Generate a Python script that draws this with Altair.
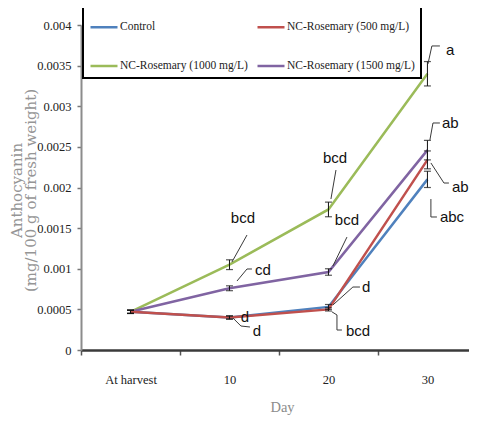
import json
import altair as alt
import pandas as pd

# ---------------- data ----------------
categories = ["At harvest", "10", "20", "30"]
series = ["Control", "NC-Rosemary (500 mg/L)", "NC-Rosemary (1000 mg/L)", "NC-Rosemary (1500 mg/L)"]
colors = ["#4F81BD", "#C0504D", "#9BBB59", "#8064A2"]

control = [0.00047, 0.00040, 0.00053, 0.00210]
nc500 = [0.00047, 0.00040, 0.00050, 0.00234]
nc1000 = [0.00047, 0.00105, 0.00173, 0.00340]
nc1500 = [0.00047, 0.00076, 0.00096, 0.00246]

err_control = [0.00002, 0.00002, 0.00003, 0.00010]
err_500 = [0.00002, 0.00002, 0.00002, 0.00011]
err_1000 = [0.00002, 0.00006, 0.00009, 0.00015]
err_1500 = [0.00002, 0.00003, 0.00004, 0.00012]

y_ticks = [0, 0.0005, 0.001, 0.0015, 0.002, 0.0025, 0.003, 0.0035, 0.004]

# significance letters and where they sit (x in category units, y in data units)
ann_text = ["a", "ab", "ab", "abc", "bcd", "bcd", "d", "bcd", "bcd", "cd", "d", "d"]
ann_x = [3.187, 3.146, 3.247, 3.126, 2.066, 2.187, 2.338, 2.177, 1.136, 1.258, 1.157, 1.278]
ann_y = [0.003692, 0.002794, 0.002006, 0.001637, 0.002363, 0.0016, 0.000775, 0.000234,
         0.001625, 0.000985, 0.000406, 0.000234]
ann_align = ["left", "left", "left", "left", "center", "center", "left", "left",
             "center", "left", "center", "center"]

# leader lines: list of (x, y) vertices
leaders = [
    [(3.005, 0.00352), (3.045, 0.003742), (3.126, 0.003742)],
    [(3.025, 0.002585), (3.056, 0.002794), (3.126, 0.002794)],
    [(3.035, 0.002302), (3.167, 0.002055), (3.217, 0.002055)],
    [(3.035, 0.001858), (3.035, 0.001637), (3.096, 0.001637)],
    [(2.076, 0.002215), (2.025, 0.001858)],
    [(2.187, 0.00139), (2.045, 0.001034)],
    [(2.045, 0.000554), (2.247, 0.000775), (2.318, 0.000775)],
    [(2.035, 0.00047), (2.086, 0.000431), (2.086, 0.000246), (2.136, 0.000246)],
    [(1.177, 0.001415), (1.025, 0.001083)],
    [(1.076, 0.000849), (1.177, 0.000997), (1.227, 0.000997)],
    [(1.035, 0.000394), (1.116, 0.000295), (1.207, 0.000283)],
]

# legend order (two columns, filled column by column)
legend_order = ["Control", "NC-Rosemary (1000 mg/L)", "NC-Rosemary (500 mg/L)", "NC-Rosemary (1500 mg/L)"]

# ---------------- tables ----------------
vals = [control, nc500, nc1000, nc1500]
errs = [err_control, err_500, err_1000, err_1500]
rows = []
for s, v, e in zip(series, vals, errs):
    for i in range(len(categories)):
        rows.append(dict(series=s, xi=i, value=v[i], lo=v[i] - e[i], hi=v[i] + e[i]))
df = pd.DataFrame(rows)

ann_df = pd.DataFrame(dict(label=ann_text, x=ann_x, y=ann_y, anchor=ann_align))
lrows = []
for k, path in enumerate(leaders):
    for j, (lx, ly) in enumerate(path):
        lrows.append(dict(lid=k, seq=j, x=lx, y=ly))
lead_df = pd.DataFrame(lrows)

# ---------------- scales / axes ----------------
serif = "Liberation Serif"
label_expr = "datum.value % 1 == 0 ? " + json.dumps(categories) + "[datum.value] : ''"

x_axis = alt.Axis(
    values=[-0.5, 0, 0.5, 1, 1.5, 2, 2.5, 3],
    labelExpr=label_expr,
    labelOverlap=False, labelFlush=False,
    tickOpacity={"condition": {"test": "datum.value % 1 == 0", "value": 0}, "value": 1},
    tickSize=5, tickColor="#555555", tickWidth=1.5,
    domainColor="#3a3a3a", domainWidth=2.5,
    labelFont=serif, labelFontSize=12.5, labelColor="#222222", labelPadding=18,
    title="Day", titleFont=serif, titleFontSize=14.5, titleFontWeight="normal",
    titleColor="#8c8c8c", titleX=201, titleY=57, titleBaseline="middle",
    grid=False,
)
# the right end of the axis runs off the picture, as in the reference
x_scale = alt.Scale(domain=[-0.5, 3.42], nice=False, zero=False)

y_axis = alt.Axis(
    values=y_ticks,
    labelExpr="format(datum.value, '.4~f')",
    tickSize=4, tickColor="#777777", tickWidth=1.5,
    domainColor="#8c8c8c", domainWidth=2,
    labelFont=serif, labelFontSize=12.5, labelColor="#222222", labelPadding=6,
    title=["Anthocyanin", "(mg/100 g of fresh weight)"],
    titleFont="DejaVu Serif", titleFontSize=15, titleFontWeight="normal",
    titleColor="#959595", titleAngle=270, titleX=-72, titleY=165,
    titleBaseline="top", titleAlign="center", titleLineHeight=14,
    grid=False,
)
y_scale = alt.Scale(domain=[0, 0.004], nice=False, zero=True)

color_range = [colors[series.index(s)] for s in legend_order]
color = alt.Color(
    "series:N",
    scale=alt.Scale(domain=legend_order, range=color_range),
    legend=alt.Legend(
        title=None, orient="none", legendX=2, legendY=-19, columns=2,
        symbolType="stroke", symbolSize=729, symbolStrokeWidth=2.5,
        labelFont=serif, labelFontSize=11.5, labelColor="#222222", labelOffset=1,
        padding=6, rowPadding=18, columnPadding=4,
        strokeColor="#000000",
    ),
)


def X(field):
    return alt.X(field, type="quantitative", scale=x_scale, axis=x_axis)


def Y(field):
    return alt.Y(field, type="quantitative", scale=y_scale, axis=y_axis)


layers = []
for s in ["Control", "NC-Rosemary (1000 mg/L)", "NC-Rosemary (1500 mg/L)", "NC-Rosemary (500 mg/L)"]:
    layers.append(
        alt.Chart(df[df["series"] == s]).mark_line(strokeWidth=2.5).encode(
            x=X("xi"), y=Y("value"), color=color
        )
    )

err_rule = alt.Chart(df).mark_rule(color="#111111", strokeWidth=1).encode(
    x=X("xi"), y=Y("lo"), y2="hi"
)
cap_lo = alt.Chart(df).mark_tick(color="#111111", orient="horizontal", size=7, thickness=1.2).encode(
    x=X("xi"), y=Y("lo")
)
cap_hi = alt.Chart(df).mark_tick(color="#111111", orient="horizontal", size=7, thickness=1.2).encode(
    x=X("xi"), y=Y("hi")
)

lead = alt.Chart(lead_df).mark_line(color="#3a3a3a", strokeWidth=1).encode(
    x=X("x"), y=Y("y"), detail="lid:N", order="seq:Q"
)

letter_font = "Liberation Sans Narrow, Liberation Sans, sans-serif"
txt_left = alt.Chart(ann_df[ann_df["anchor"] == "left"]).mark_text(
    align="left", baseline="middle", font=letter_font, fontSize=15, color="#111111"
).encode(x=X("x"), y=Y("y"), text="label:N")
txt_center = alt.Chart(ann_df[ann_df["anchor"] == "center"]).mark_text(
    align="center", baseline="middle", font=letter_font, fontSize=15, color="#111111"
).encode(x=X("x"), y=Y("y"), text="label:N")

chart = alt.layer(*layers, err_rule, cap_lo, cap_hi, lead, txt_left, txt_center).properties(
    width=388, height=325,
    autosize=alt.AutoSizeParams(type="none"),
    padding={"left": 73, "top": 17, "right": 0, "bottom": 65},
).configure_view(stroke=None).configure_legend(strokeWidth=2)

chart.save("out.html", embed_options={"renderer": "svg", "actions": False})
